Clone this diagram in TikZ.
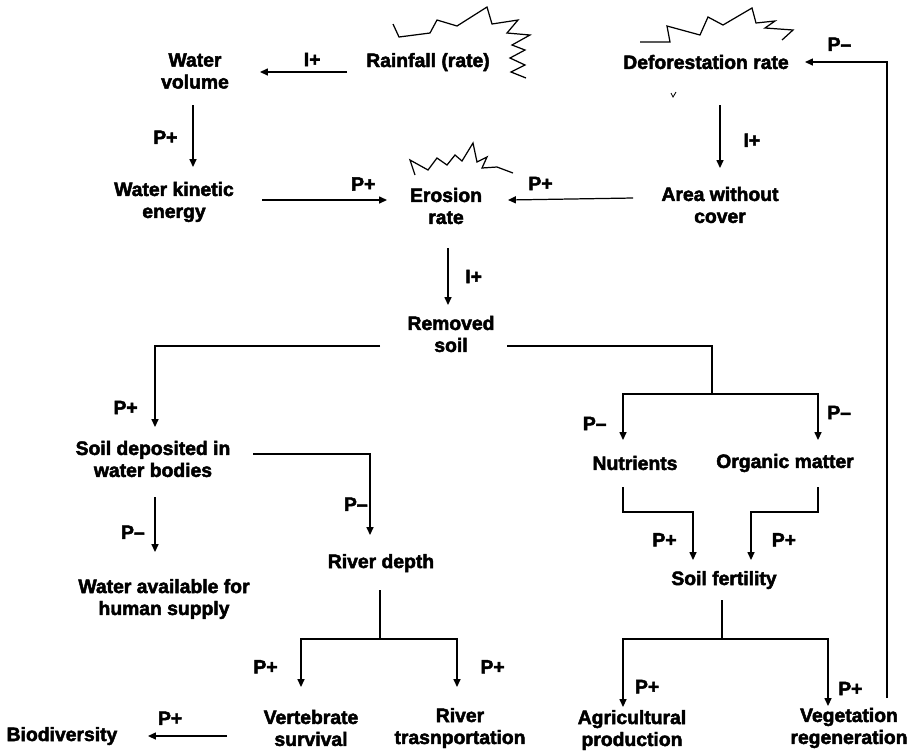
\documentclass[tikz,border=0pt]{standalone}
\usepackage{fontspec}
\setmainfont{Liberation Sans}[BoldFeatures={FakeBold=2.5}]
\usetikzlibrary{arrows.meta, calc}

\begin{document}
\begin{tikzpicture}[>={Triangle[length=4.5pt,width=4pt]}, x=0.02cm, y=-0.02cm, line width=0.7pt,
  every node/.style={font=\fontsize{11}{12.5}\selectfont\bfseries, align=center, inner sep=1pt}]
  \useasboundingbox (0,0) rectangle (909,752);

  % variables
  \node (RF) at (428,62)  {Rainfall (rate)};
  \node (WV) at (195,71)  {Water\\volume};
  \node (WK) at (174,202) {Water kinetic\\energy};
  \node (DR) at (706,62)  {Deforestation rate};
  \node (AC) at (720,205) {Area without\\cover};
  \node (ER) at (446,206) {Erosion\\rate};
  \node (RS) at (451,334) {Removed\\soil};
  \node (SD) at (153,459) {Soil deposited in\\water bodies};
  \node (WA) at (164,599) {Water available for\\human supply};
  \node (RD) at (381,563) {River depth};
  \node (NU) at (635,463) {Nutrients};
  \node (OM) at (785,463) {Organic matter};
  \node (SF) at (724,580) {Soil fertility};
  \node (VS) at (311,728) {Vertebrate\\survival};
  \node (RT) at (460,728) {River\\trasnportation};
  \node (BD) at (62,736)  {Biodiversity};
  \node (AP) at (632,730) {Agricultural\\production};
  \node (VR) at (849,728) {Vegetation\\regeneration};

  % bursts
  \draw[line width=0.7pt] (393,24) -- (399,37) -- (430,33) -- (437,20) -- (457,26) -- (487,7) -- (492,24)
    -- (518,20) -- (507,33) -- (530,35) -- (512,45) -- (525,50) -- (510,58) -- (525,65) -- (511,72)
    -- (526,78);
  \draw[line width=0.7pt] (640,42) -- (670,42) -- (667,26) -- (700,35) -- (708,17) -- (723,25) -- (752,8)
    -- (756,23) -- (775,21) -- (765,28) -- (793,30) -- (782,40);
  \draw[line width=0.7pt] (415,175) -- (410,160) -- (428,170) -- (437,158) -- (447,165) -- (455,155)
    -- (462,161) -- (473,143) -- (477,162) -- (487,157) -- (482,168) -- (497,167) -- (513,173);
  \draw[line width=0.5pt] (671,93) -- (673,97) -- (676,92);

  % links
  \draw[->] ($(RF)+(-81,10)$) -- node[pos=.4, above=2pt]{I+} ($(WV)+(65,1)$);
  \draw[->] ($(WV)+(-2,34)$) -- node[pos=.52, left=7.5pt]{P+} ($(WV)+(-2,96)$);
  \draw[->] ($(WK)+(88,-2)$) -- node[pos=.81, above=4pt]{P+} ($(ER)+(-59,-6)$);
  \draw[->] ($(AC)+(-87,-7)$) -- node[pos=.74, above=4pt]{P+} ($(ER)+(62,-6)$);
  \draw[->] ($(DR)+(14,43)$) -- node[pos=.56, right=12pt]{I+} ($(AC)+(0,-37)$);
  \draw[->] ($(ER)+(2,42)$) -- node[pos=.5, right=8.5pt]{I+} ($(RS)+(-3,-29)$);

  \draw[->] ($(RS)+(-71,12)$) -| node[pos=.88, left=8.5pt]{P+} ($(SD)+(2,-32)$);
  \coordinate (S1) at (712,394);
  \draw ($(RS)+(56,12)$) -| (S1);
  \draw[->] (S1) -| node[pos=.82, left=8pt]{P--} ($(NU)+(-12,-23)$);
  \draw[->] (S1) -| node[pos=.7, right=4pt]{P--} ($(OM)+(33,-23)$);

  \draw[->] ($(SD)+(100,-5)$) -| node[pos=.81, left=0pt]{P--} ($(RD)+(-11,-28)$);
  \draw[->] ($(SD)+(2,38)$) -- node[pos=.64, left=4.5pt]{P--} ($(WA)+(-9,-47)$);

  \coordinate (S2) at (380,639);
  \draw ($(RD)+(-1,27)$) -- (S2);
  \draw[->] (S2) -| node[pos=.79, left=12pt]{P+} ($(VS)+(-10,-41)$);
  \draw[->] (S2) -| node[pos=.79, right=12pt]{P+} ($(RT)+(-3,-41)$);
  \draw[->] ($(VS)+(-84,8)$) -- node[pos=.72, above=5pt]{P+} ($(BD)+(86,0)$);

  \draw[->] ($(NU)+(-12,24)$) |- ($(SF)+(-31,-68)$) -- node[pos=.58, left=8pt]{P+} ($(SF)+(-31,-20)$);
  \draw[->] ($(OM)+(33,24)$) |- ($(SF)+(27,-68)$) -- node[pos=.58, right=10.5pt]{P+} ($(SF)+(27,-20)$);

  \coordinate (S3) at (722,639);
  \draw ($(SF)+(-2,20)$) -- (S3);
  \draw[->] (S3) -| node[pos=.85, right=5.5pt]{P+} ($(AP)+(-9,-23)$);
  \draw[->] (S3) -| node[pos=.87, right=4.5pt]{P+} ($(VR)+(-21,-22)$);
  \draw[->] ($(VR)+(38,-30)$) |- node[pos=.79, above=5pt]{P--} ($(DR)+(99,0)$);
\end{tikzpicture}
\end{document}
